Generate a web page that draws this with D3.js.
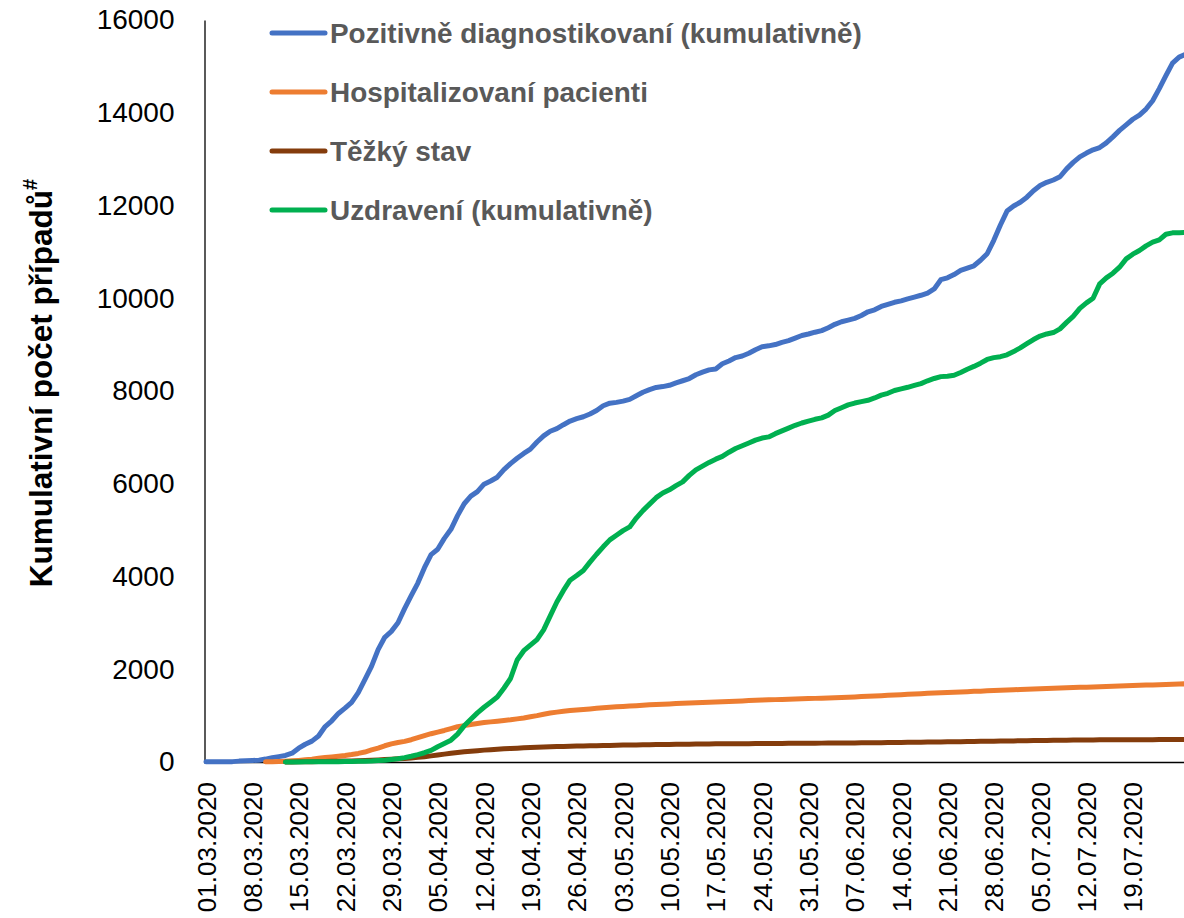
<!DOCTYPE html>
<html><head><meta charset="utf-8">
<script src="https://cdn.jsdelivr.net/npm/d3@7"></script>
<style>html,body{margin:0;padding:0;background:#fff;}svg{display:block;}</style>
</head><body>
<svg id="chart" width="1184" height="918"></svg>
<script>
// ---- data (day index 0 = 01.03.2020) ----
const tickLabels = ["01.03.2020","08.03.2020","15.03.2020","22.03.2020","29.03.2020","05.04.2020","12.04.2020","19.04.2020","26.04.2020","03.05.2020","10.05.2020","17.05.2020","24.05.2020","31.05.2020","07.06.2020","14.06.2020","21.06.2020","28.06.2020","05.07.2020","12.07.2020","19.07.2020"];
const tickDays = [0,7,14,21,28,35,42,49,56,63,70,77,84,91,98,105,112,119,126,133,140];
const yTicks = [0,2000,4000,6000,8000,10000,12000,14000,16000];

const positive = [3,3,5,5,8,19,26,32,38,63,
94,116,141,189,298,383,450,560,765,889,
1047,1161,1287,1497,1775,2062,2422,2689,2817,3002,
3308,3589,3858,4190,4472,4587,4822,5017,5312,5569,
5732,5831,5991,6059,6141,6303,6433,6549,6654,6746,
6900,7033,7132,7187,7273,7352,7404,7445,7504,7579,
7682,7737,7755,7781,7819,7896,7974,8031,8077,8095,
8123,8176,8221,8269,8351,8406,8455,8475,8586,8647,
8721,8754,8813,8890,8955,8974,9002,9050,9086,9140,
9196,9229,9268,9302,9364,9438,9494,9529,9567,9628,
9708,9751,9824,9870,9913,9944,9986,10024,10064,10111,
10200,10400,10440,10510,10600,10650,10700,10820,10960,11250,
11580,11880,11990,12070,12180,12320,12430,12500,12550,12620,
12790,12930,13050,13130,13200,13250,13350,13480,13620,13740,
13860,13950,14080,14260,14520,14800,15070,15200,15260];

const hospitalized = [null,null,null,null,null,null,null,null,null,3,
8,12,18,25,35,48,62,80,95,110,
125,140,160,185,215,260,300,350,390,420,
445,480,525,570,610,645,680,720,760,785,
810,830,850,865,880,895,910,930,950,975,
1000,1030,1055,1075,1095,1110,1122,1133,1145,1157,
1170,1180,1190,1198,1207,1215,1225,1232,1240,1247,
1253,1260,1266,1272,1278,1284,1290,1295,1301,1306,
1312,1318,1324,1330,1335,1340,1345,1350,1355,1360,
1364,1368,1372,1377,1382,1387,1391,1396,1403,1410,
1417,1424,1431,1438,1445,1452,1459,1466,1473,1480,
1487,1494,1500,1506,1512,1517,1523,1528,1534,1540,
1546,1551,1557,1563,1568,1574,1580,1585,1590,1595,
1600,1605,1610,1614,1619,1624,1629,1634,1638,1643,
1648,1653,1658,1662,1667,1672,1677,1681,1686];

const severe = [null,null,null,null,null,null,null,null,null,null,
null,null,1,2,3,5,7,9,11,14,
17,20,24,28,33,39,45,52,60,68,
77,88,100,115,132,150,170,188,205,220,
233,245,256,266,275,284,292,299,306,312,
318,323,328,332,336,340,343,346,349,352,
355,358,361,364,366,369,371,374,376,378,
380,382,384,385,387,388,390,391,392,393,
394,395,396,397,398,399,400,401,402,403,
404,405,406,407,408,409,410,411,412,413,
414,416,417,419,420,422,424,425,427,429,
431,433,435,437,439,441,443,445,447,449,
451,453,455,457,459,461,463,465,467,469,
471,473,475,476,477,478,479,479,480,480,
481,481,482,482,483,483,484,484,485];

const recovered = [null,null,null,null,null,null,null,null,null,null,
null,null,0,1,2,3,4,5,6,7,
8,10,12,15,18,22,30,40,55,70,
95,125,160,200,250,330,400,470,600,780,
920,1060,1180,1290,1400,1590,1800,2200,2400,2520,
2640,2850,3150,3450,3700,3920,4020,4130,4310,4480,
4640,4790,4890,4990,5070,5260,5420,5560,5700,5800,
5870,5960,6040,6180,6300,6380,6460,6530,6590,6680,
6760,6820,6880,6940,6985,7010,7080,7140,7200,7260,
7310,7350,7390,7420,7480,7580,7640,7700,7740,7770,
7800,7850,7910,7950,8010,8045,8080,8120,8160,8220,
8270,8310,8320,8340,8400,8470,8530,8600,8680,8720,
8740,8780,8850,8930,9020,9110,9185,9230,9260,9340,
9480,9610,9780,9900,10000,10310,10440,10540,10670,10850,
10950,11030,11130,11210,11260,11380,11410,11415,11420];

const seriesNames = ["Pozitivně diagnostikovaní (kumulativně)","Hospitalizovaní pacienti","Těžký stav","Uzdravení (kumulativně)"];
const seriesColors = ["#4472C4","#ED7D31","#843C0C","#00B050"];
const seriesData = [positive, hospitalized, severe, recovered];

// ---- chart ----
const svg = d3.select("#chart");
const W = 1184, H = 918;
const plotLeft = 206, plotTop = 20, plotBottom = 762;
const dayWidth = 6.62;

const x = d3.scaleLinear().domain([0, positive.length - 1]).range([plotLeft, plotLeft + (positive.length - 1) * dayWidth]);
const y = d3.scaleLinear().domain([0, 16000]).range([plotBottom, plotTop]);

// y axis
const yAxis = svg.append("g").attr("transform", `translate(${plotLeft - 1.5},0)`)
  .call(d3.axisLeft(y).tickValues(yTicks).tickFormat(d3.format("d")).tickSize(0).tickPadding(30));
yAxis.select(".domain").attr("stroke", "#000").attr("stroke-width", 1.3);
yAxis.selectAll("text").attr("font-family", "Liberation Sans, Arial, sans-serif").attr("font-size", 28).attr("fill", "#000");

// x axis
const xAxis = svg.append("g").attr("transform", `translate(0,${plotBottom})`)
  .call(d3.axisBottom(x).tickValues(tickDays).tickFormat((d, i) => tickLabels[i]).tickSize(0).tickSizeOuter(0));
xAxis.select(".domain").attr("stroke", "#000").attr("stroke-width", 1.3)
  .attr("d", `M${plotLeft - 2},0.5H${W + 5}`);
xAxis.selectAll("text")
  .attr("transform", "rotate(-90)")
  .attr("x", -20).attr("y", 0).attr("dy", "0.35em")
  .attr("text-anchor", "end")
  .attr("font-family", "Liberation Sans, Arial, sans-serif").attr("font-size", 26).attr("fill", "#000");

// lines
const line = d3.line().defined(d => d != null).x((d, i) => x(i)).y(d => y(d));
seriesData.forEach((s, k) => {
  svg.append("path").datum(s)
    .attr("fill", "none").attr("stroke", seriesColors[k]).attr("stroke-width", 5)
    .attr("stroke-linejoin", "round").attr("stroke-linecap", "round")
    .attr("d", line);
});

// legend
const legend = svg.append("g");
const legendY0 = 33, legendStep = 59;
seriesNames.forEach((name, k) => {
  const g = legend.append("g").attr("transform", `translate(272,${legendY0 + k * legendStep})`);
  g.append("line").attr("x1", 0).attr("x2", 53).attr("y1", 0).attr("y2", 0)
    .attr("stroke", seriesColors[k]).attr("stroke-width", 5).attr("stroke-linecap", "round");
  g.append("text").attr("x", 58).attr("y", 0).attr("dy", "0.35em")
    .attr("font-family", "Liberation Sans, Arial, sans-serif").attr("font-weight", "bold")
    .attr("font-size", 24).attr("fill", "#595959").text(name);
});
const firstLen = legend.select("text").node().getComputedTextLength();
const legendSize = 24 * 532 / firstLen;
legend.selectAll("text").attr("font-size", legendSize);

// y title
const title = svg.append("text")
  .attr("transform", `translate(41,${(590 + 176) / 2}) rotate(-90)`)
  .attr("text-anchor", "middle").attr("dy", "0.35em")
  .attr("font-family", "Liberation Sans, Arial, sans-serif").attr("font-weight", "bold")
  .attr("font-size", 31.5).attr("fill", "#000");
title.append("tspan").text("Kumulativní počet případů");
title.append("tspan").attr("font-size", 20).attr("dy", "-0.75em").text("#");
</script>
</body></html>
